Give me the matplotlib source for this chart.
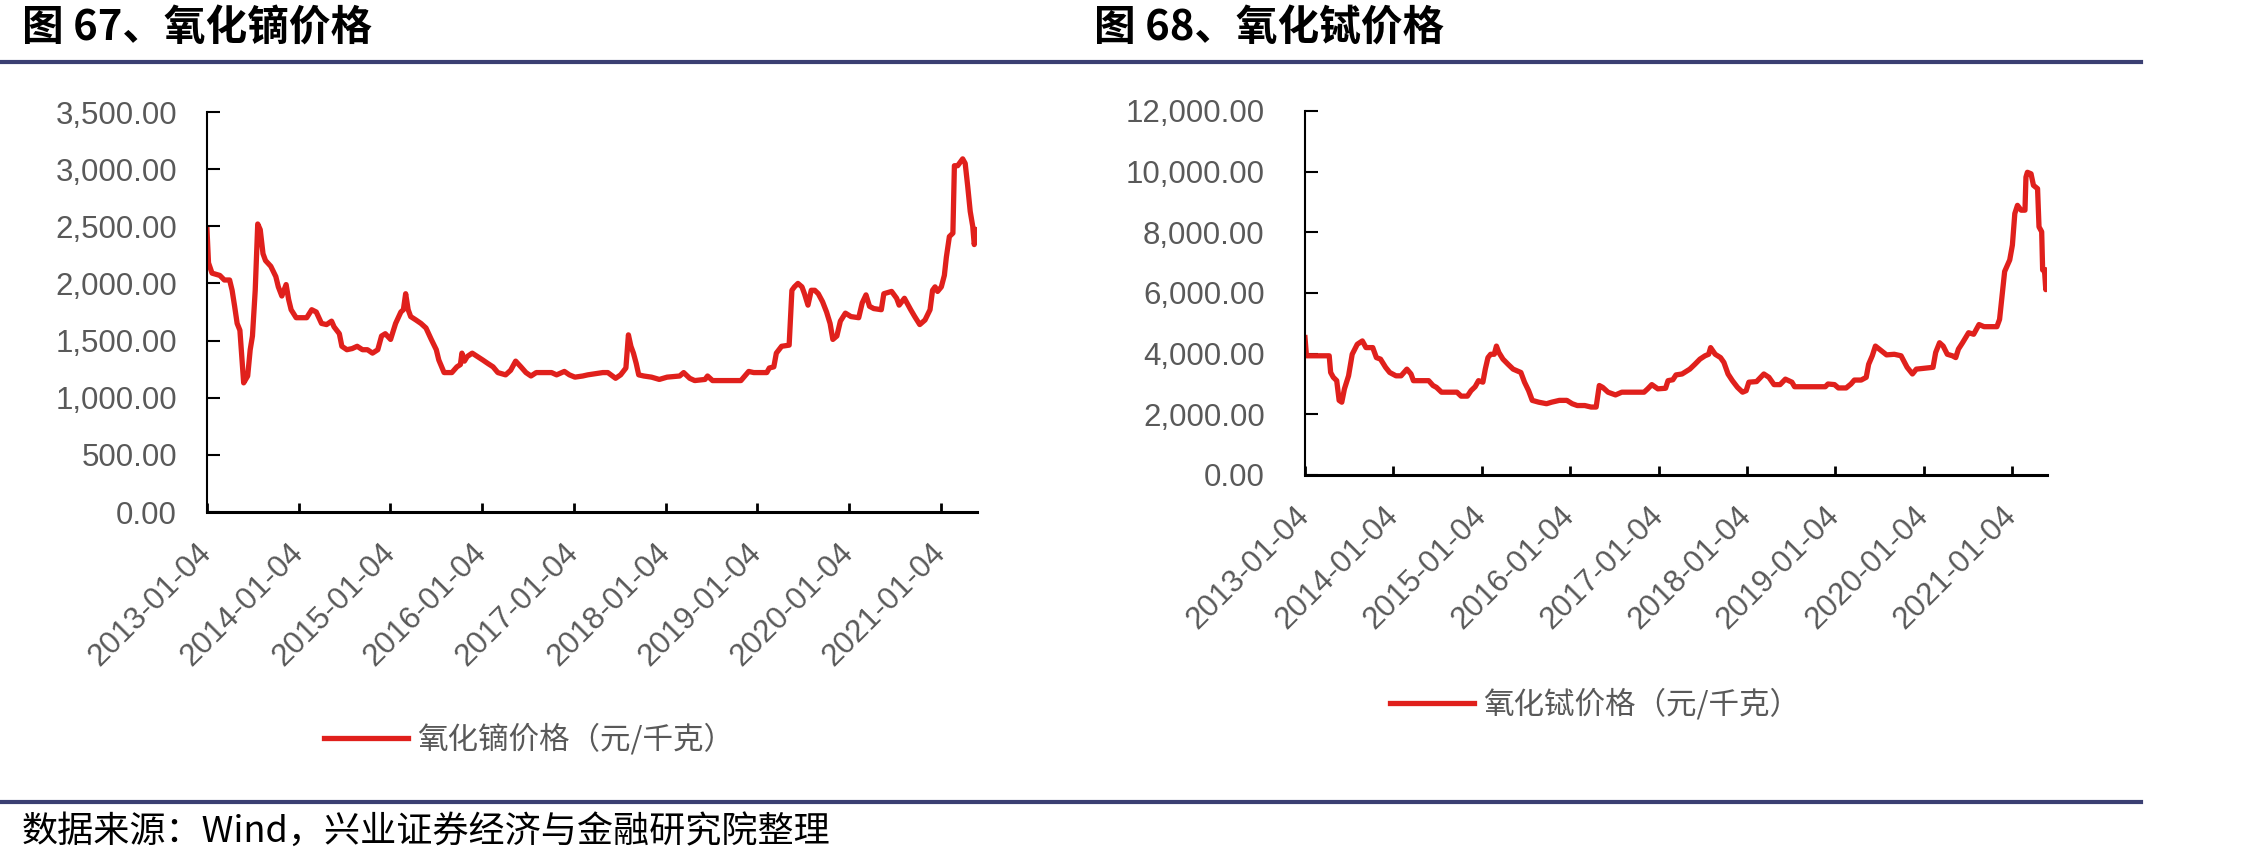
import matplotlib.pyplot as plt
import matplotlib.lines as mlines
import pandas as pd
from matplotlib.ticker import FuncFormatter, MultipleLocator
from matplotlib.font_manager import FontProperties

plt.rcParams['font.family'] = ['Liberation Sans', 'Noto Sans CJK SC', 'DejaVu Sans']
CJK = ['Noto Sans CJK SC', 'DejaVu Sans']

# 氧化镝价格（元/千克）
dy_dates = [
    '2013-01-04', '2013-01-10', '2013-01-24', '2013-02-24', '2013-03-14', '2013-04-04', '2013-04-14', '2013-04-24', '2013-05-04', '2013-05-15',
    '2013-05-30', '2013-06-15', '2013-06-25', '2013-07-04', '2013-07-15', '2013-07-25', '2013-08-04', '2013-08-15', '2013-08-25', '2013-09-15',
    '2013-10-05', '2013-10-15', '2013-10-29', '2013-11-15', '2013-11-25', '2013-12-05', '2013-12-25', '2014-02-05', '2014-02-25', '2014-03-15',
    '2014-04-05', '2014-04-25', '2014-05-15', '2014-05-25', '2014-06-15', '2014-06-25', '2014-07-15', '2014-08-05', '2014-08-25', '2014-09-15',
    '2014-10-05', '2014-10-25', '2014-11-15', '2014-11-30', '2014-12-15', '2015-01-05', '2015-01-25', '2015-02-15', '2015-02-25', '2015-03-06',
    '2015-03-16', '2015-03-26', '2015-04-16', '2015-05-06', '2015-05-26', '2015-06-16', '2015-07-06', '2015-07-16', '2015-08-06', '2015-09-06',
    '2015-09-26', '2015-10-10', '2015-10-16', '2015-10-26', '2015-11-06', '2015-11-26', '2015-12-17', '2016-01-07', '2016-01-27', '2016-02-17',
    '2016-03-07', '2016-04-07', '2016-04-27', '2016-05-17', '2016-06-07', '2016-06-27', '2016-07-17', '2016-08-07', '2016-10-07', '2016-10-27',
    '2016-11-27', '2016-12-17', '2017-01-08', '2017-02-08', '2017-02-28', '2017-03-29', '2017-04-29', '2017-05-19', '2017-06-19', '2017-07-09',
    '2017-07-30', '2017-08-09', '2017-08-19', '2017-08-29', '2017-09-09', '2017-09-19', '2017-10-09', '2017-11-09', '2017-12-10', '2018-01-10',
    '2018-03-01', '2018-03-17', '2018-04-10', '2018-04-30', '2018-06-10', '2018-06-20', '2018-07-10', '2018-10-31', '2018-12-01', '2018-12-21',
    '2019-02-11', '2019-02-21', '2019-03-11', '2019-03-21', '2019-04-11', '2019-05-11', '2019-05-22', '2019-06-01', '2019-06-15', '2019-07-01',
    '2019-07-11', '2019-07-25', '2019-08-07', '2019-08-21', '2019-09-04', '2019-09-21', '2019-10-07', '2019-10-21', '2019-11-01', '2019-11-17',
    '2019-12-01', '2019-12-21', '2020-01-12', '2020-02-12', '2020-02-26', '2020-03-12', '2020-03-26', '2020-04-12', '2020-05-12', '2020-05-22',
    '2020-06-22', '2020-07-12', '2020-07-22', '2020-08-12', '2020-08-22', '2020-09-06', '2020-09-22', '2020-10-12', '2020-11-02', '2020-11-22',
    '2020-12-02', '2020-12-12', '2020-12-22', '2021-01-06', '2021-01-18', '2021-01-26', '2021-02-07', '2021-02-21', '2021-02-27', '2021-03-12',
    '2021-03-22', '2021-04-01', '2021-04-11', '2021-04-21', '2021-05-01', '2021-05-11', '2021-05-17', '2021-05-28']
dy_price = [
    2470, 2180, 2090, 2070, 2030, 2030, 1940, 1800, 1650, 1590,
    1130, 1190, 1420, 1540, 1940, 2520, 2470, 2260, 2200, 2150,
    2060, 1970, 1890, 1990, 1860, 1770, 1700, 1700, 1770, 1750,
    1650, 1640, 1670, 1620, 1560, 1450, 1420, 1430, 1450, 1420,
    1420, 1390, 1420, 1540, 1560, 1510, 1650, 1750, 1770, 1910,
    1770, 1710, 1680, 1650, 1610, 1510, 1420, 1330, 1220, 1220,
    1270, 1290, 1390, 1320, 1360, 1390, 1360, 1330, 1300, 1270,
    1220, 1200, 1240, 1320, 1270, 1220, 1190, 1220, 1220, 1200,
    1230, 1200, 1180, 1190, 1200, 1210, 1220, 1220, 1170, 1200,
    1260, 1550, 1450, 1390, 1300, 1200, 1190, 1180, 1160, 1180,
    1190, 1220, 1170, 1150, 1160, 1190, 1150, 1150, 1230, 1220,
    1220, 1260, 1270, 1390, 1450, 1460, 1940, 1970, 2000, 1970,
    1910, 1810, 1940, 1940, 1910, 1840, 1750, 1650, 1510, 1540,
    1670, 1740, 1710, 1700, 1830, 1900, 1800, 1780, 1770, 1910,
    1930, 1870, 1810, 1870, 1830, 1770, 1710, 1640, 1680, 1770,
    1940, 1970, 1930, 1970, 2070, 2230, 2410, 2440, 3030, 3030,
    3060, 3090, 3050, 2850, 2630, 2500, 2340, 2470]

# 氧化铽价格（元/千克）
tb_dates = [
    '2013-01-04', '2013-01-10', '2013-04-14', '2013-04-20', '2013-05-01', '2013-05-15', '2013-05-25', '2013-06-05', '2013-06-16', '2013-07-03',
    '2013-07-18', '2013-08-08', '2013-08-29', '2013-09-13', '2013-10-11', '2013-10-26', '2013-11-12', '2013-12-03', '2013-12-20', '2014-01-15',
    '2014-02-05', '2014-03-01', '2014-03-18', '2014-03-28', '2014-05-30', '2014-06-17', '2014-07-01', '2014-07-22', '2014-09-24', '2014-10-11',
    '2014-11-06', '2014-11-21', '2014-12-08', '2014-12-22', '2015-01-09', '2015-01-19', '2015-01-30', '2015-02-10', '2015-02-25', '2015-03-06',
    '2015-03-16', '2015-04-02', '2015-04-23', '2015-05-14', '2015-06-15', '2015-06-30', '2015-07-17', '2015-08-01', '2015-08-28', '2015-09-29',
    '2015-10-20', '2015-11-21', '2015-12-22', '2016-01-13', '2016-02-03', '2016-03-05', '2016-03-31', '2016-04-21', '2016-05-04', '2016-05-18',
    '2016-06-09', '2016-07-10', '2016-08-05', '2016-11-05', '2016-11-20', '2016-12-07', '2017-01-01', '2017-02-02', '2017-02-12', '2017-03-04',
    '2017-03-17', '2017-04-11', '2017-05-13', '2017-06-03', '2017-06-24', '2017-07-15', '2017-07-30', '2017-08-07', '2017-08-26', '2017-09-17',
    '2017-10-01', '2017-10-18', '2017-11-05', '2017-11-26', '2017-12-17', '2018-01-01', '2018-01-12', '2018-02-13', '2018-03-15', '2018-04-05',
    '2018-04-26', '2018-05-21', '2018-06-12', '2018-07-09', '2018-07-20', '2018-11-24', '2018-12-05', '2019-01-01', '2019-01-17', '2019-02-18',
    '2019-03-10', '2019-03-24', '2019-04-21', '2019-05-12', '2019-05-22', '2019-06-06', '2019-06-19', '2019-07-14', '2019-08-04', '2019-09-05',
    '2019-10-03', '2019-10-28', '2019-11-19', '2019-12-05', '2020-02-12', '2020-02-23', '2020-03-10', '2020-03-25', '2020-04-11', '2020-05-02',
    '2020-05-16', '2020-05-27', '2020-06-13', '2020-07-08', '2020-07-29', '2020-08-20', '2020-09-10', '2020-11-02', '2020-11-13', '2020-11-23',
    '2020-12-04', '2020-12-25', '2021-01-05', '2021-01-15', '2021-01-26', '2021-02-10', '2021-02-26', '2021-03-02', '2021-03-08', '2021-03-23',
    '2021-04-02', '2021-04-19', '2021-04-25', '2021-05-06', '2021-05-10', '2021-05-18', '2021-05-23', '2021-05-28']
tb_price = [
    4530, 3930, 3930, 3380, 3220, 3110, 2460, 2400, 2840, 3270,
    3980, 4310, 4420, 4200, 4200, 3870, 3820, 3550, 3380, 3270,
    3270, 3490, 3330, 3110, 3110, 2950, 2890, 2730, 2730, 2600,
    2600, 2780, 2910, 3110, 3060, 3490, 3870, 3980, 3980, 4250,
    4040, 3820, 3650, 3490, 3380, 3060, 2780, 2460, 2400, 2350,
    2400, 2460, 2460, 2350, 2290, 2290, 2240, 2240, 2950, 2890,
    2730, 2640, 2730, 2730, 2840, 2980, 2840, 2860, 3110, 3140,
    3300, 3330, 3490, 3650, 3820, 3930, 3980, 4200, 3980, 3870,
    3710, 3330, 3110, 2890, 2730, 2780, 3060, 3080, 3330, 3220,
    2980, 2980, 3160, 3060, 2910, 2910, 3000, 2980, 2870, 2870,
    3000, 3130, 3130, 3220, 3650, 3930, 4250, 4090, 3960, 3980,
    3930, 3550, 3330, 3490, 3550, 4040, 4360, 4250, 3980, 3930,
    3870, 4150, 4360, 4690, 4640, 4960, 4890, 4890, 5130, 5890,
    6710, 7090, 7580, 8620, 8890, 8730, 8730, 9820, 9980, 9930,
    9550, 9440, 8180, 8020, 6760, 6710, 6110, 6760]

tick_labels = ['2013-01-04', '2014-01-04', '2015-01-04', '2016-01-04', '2017-01-04',
               '2018-01-04', '2019-01-04', '2020-01-04', '2021-01-04']

RED = '#E0201C'
NAVY = '#3B3F72'
GREY = '#595959'
W, H = 2258, 863

fig = plt.figure(figsize=(W / 100, H / 100), dpi=100)


def add_ax(x0, y_top, x1, y_bot):
    return fig.add_axes([x0 / W, 1 - y_bot / H, (x1 - x0) / W, (y_bot - y_top) / H])


def draw(ax, dates, vals, ymax, ystep, ypad, label, leg_x, leg_y):
    d = pd.to_datetime(dates)
    ax.plot(d, vals, color=RED, lw=3.8, solid_joinstyle='round', label=label)
    ax.set_xlim(d[0], d[-1])
    ax.set_ylim(0, ymax)
    ax.yaxis.set_major_locator(MultipleLocator(ystep))
    ax.yaxis.set_major_formatter(FuncFormatter(lambda v, p: f'{v:,.2f}'))
    ax.set_xticks(pd.to_datetime(tick_labels))
    ax.set_xticklabels(tick_labels)
    for s in ['top', 'right']:
        ax.spines[s].set_visible(False)
    ax.spines['left'].set_linewidth(1.5)
    ax.spines['bottom'].set_linewidth(2.2)
    ax.tick_params(axis='y', direction='in', length=9.5, width=1.5, pad=ypad,
                   labelsize=22.5, labelcolor=GREY)
    ax.tick_params(axis='x', direction='in', length=6.5, width=2, pad=26,
                   labelsize=22.5, labelcolor=GREY, labelrotation=45)
    for t in ax.get_xticklabels():
        t.set_ha('right')
        t.set_va('center')
        t.set_rotation_mode('anchor')
    leg = ax.legend(loc='center left', bbox_to_anchor=(leg_x / W, 1 - leg_y / H),
                    bbox_transform=fig.transFigure, frameon=False, borderpad=0,
                    borderaxespad=0, handlelength=2.75, handletextpad=0.3,
                    prop=FontProperties(family=CJK, size=22))
    for t in leg.get_texts():
        t.set_color(GREY)


ax1 = add_ax(207, 112, 977, 512)
draw(ax1, dy_dates, dy_price, 3500, 500, 21.6, '氧化镝价格（元/千克）', 324, 740)

ax2 = add_ax(1305, 111, 2047, 475)
draw(ax2, tb_dates, tb_price, 12000, 2000, 29, '氧化铽价格（元/千克）', 1390, 705)

# 标题、分隔线与资料来源
fig.text(22 / W, 1 - 29 / H, '图 67、氧化镝价格', fontsize=30, fontweight='bold',
         family=CJK, va='center')
fig.text(1094 / W, 1 - 29 / H, '图 68、氧化铽价格', fontsize=30, fontweight='bold',
         family=CJK, va='center')
for y in [62, 802]:
    fig.add_artist(mlines.Line2D([0, 2141 / W], [1 - y / H, 1 - y / H], color=NAVY,
                                 lw=3, transform=fig.transFigure))
fig.text(22 / W, 1 - 832 / H, '数据来源：Wind，兴业证券经济与金融研究院整理', fontsize=26,
         family=CJK, va='center')

fig.savefig('out.png', dpi=100)
